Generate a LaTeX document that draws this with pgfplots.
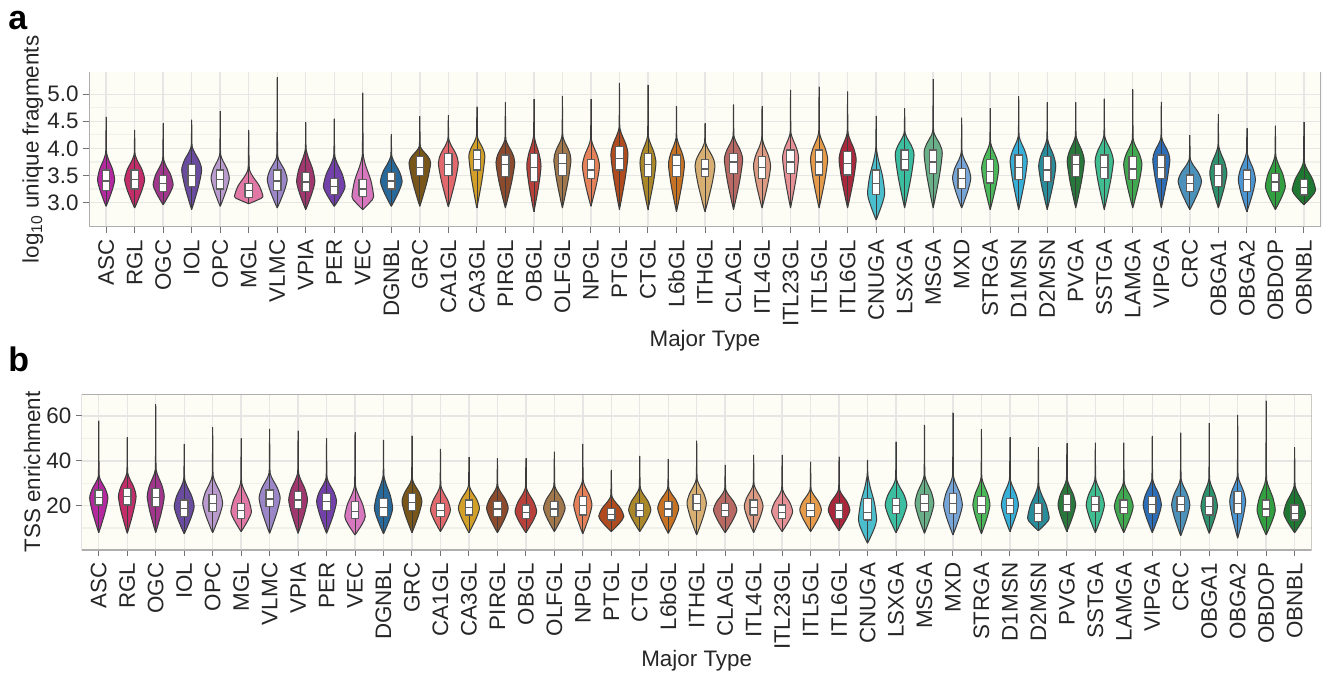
\documentclass[border=0pt]{standalone}
\usepackage{fontspec}
\setmainfont{Liberation Sans}
\usepackage{pgfplots}
\pgfplotsset{compat=1.18}

\definecolor{vASC}{RGB}{180,40,160}
\definecolor{vRGL}{RGB}{195,45,105}
\definecolor{vOGC}{RGB}{160,55,140}
\definecolor{vIOL}{RGB}{105,75,160}
\definecolor{vOPC}{RGB}{185,155,205}
\definecolor{vMGL}{RGB}{225,120,165}
\definecolor{vVLMC}{RGB}{155,135,200}
\definecolor{vVPIA}{RGB}{160,55,110}
\definecolor{vPER}{RGB}{115,65,170}
\definecolor{vVEC}{RGB}{215,120,190}
\definecolor{vDGNBL}{RGB}{40,105,155}
\definecolor{vGRC}{RGB}{120,85,25}
\definecolor{vCA1GL}{RGB}{225,105,110}
\definecolor{vCA3GL}{RGB}{210,160,40}
\definecolor{vPIRGL}{RGB}{140,75,45}
\definecolor{vOBGL}{RGB}{185,65,60}
\definecolor{vOLFGL}{RGB}{160,120,75}
\definecolor{vNPGL}{RGB}{230,130,90}
\definecolor{vPTGL}{RGB}{175,75,30}
\definecolor{vCTGL}{RGB}{170,135,40}
\definecolor{vL6bGL}{RGB}{200,115,35}
\definecolor{vITHGL}{RGB}{215,175,115}
\definecolor{vCLAGL}{RGB}{185,105,100}
\definecolor{vITL4GL}{RGB}{220,155,130}
\definecolor{vITL23GL}{RGB}{230,145,150}
\definecolor{vITL5GL}{RGB}{230,155,75}
\definecolor{vITL6GL}{RGB}{170,40,60}
\definecolor{vCNUGA}{RGB}{75,190,205}
\definecolor{vLSXGA}{RGB}{60,190,160}
\definecolor{vMSGA}{RGB}{105,175,135}
\definecolor{vMXD}{RGB}{120,165,215}
\definecolor{vSTRGA}{RGB}{75,185,90}
\definecolor{vD1MSN}{RGB}{55,175,215}
\definecolor{vD2MSN}{RGB}{40,140,155}
\definecolor{vPVGA}{RGB}{40,120,60}
\definecolor{vSSTGA}{RGB}{65,190,145}
\definecolor{vLAMGA}{RGB}{65,170,80}
\definecolor{vVIPGA}{RGB}{45,110,185}
\definecolor{vCRC}{RGB}{75,145,185}
\definecolor{vOBGA1}{RGB}{45,145,110}
\definecolor{vOBGA2}{RGB}{75,150,210}
\definecolor{vOBDOP}{RGB}{50,160,65}
\definecolor{vOBNBL}{RGB}{30,120,50}

\definecolor{vline}{RGB}{60,60,60}
\definecolor{boxline}{RGB}{95,95,95}
\definecolor{bgc}{RGB}{253,253,245}
\definecolor{gridmaj}{RGB}{230,230,228}
\definecolor{gridmin}{RGB}{241,241,236}
\definecolor{framec}{RGB}{175,175,175}

% x / name / bottom tip / widest y / half width / top of body / tail end / q1 / median / q3
\def\dataA{0/ASC/2.93/3.42/0.30/3.91/4.58/3.23/3.40/3.60,
1/RGL/2.90/3.42/0.35/3.88/4.34/3.25/3.42/3.60,
2/OGC/2.96/3.33/0.35/3.79/4.46/3.20/3.35/3.50,
3/IOL/2.87/3.60/0.35/4.03/4.53/3.30/3.50/3.70,
4/OPC/2.93/3.45/0.32/3.88/4.69/3.25/3.42/3.60,
5/MGL/2.98/3.11/0.50/3.60/4.34/3.10/3.22/3.35,
6/VLMC/2.90/3.42/0.35/3.85/5.31/3.22/3.40/3.60,
7/VPIA/2.87/3.39/0.32/3.97/4.48/3.20/3.38/3.55,
8/PER/2.93/3.30/0.38/3.85/4.55/3.15/3.30/3.45,
9/VEC/2.87/3.11/0.38/3.85/5.03/3.12/3.25/3.42,
10/DGNBL/2.93/3.39/0.38/3.85/4.26/3.25/3.40/3.55,
11/GRC/2.93/3.73/0.38/4.03/4.59/3.50/3.65/3.85,
12/CA1GL/2.92/3.73/0.35/4.16/4.61/3.50/3.70/3.90,
13/CA3GL/2.90/3.85/0.28/4.22/4.77/3.60/3.80/3.97,
14/PIRGL/2.90/3.74/0.33/4.16/4.85/3.48/3.70/3.88,
15/OBGL/2.83/3.67/0.25/4.22/4.91/3.39/3.65/3.91,
16/OLFGL/2.90/3.79/0.30/4.22/4.97/3.50/3.72/3.91,
17/NPGL/2.93/3.67/0.30/4.16/4.91/3.45/3.60/3.79,
18/PTGL/2.87/3.88/0.30/4.37/5.21/3.60/3.82/4.03,
19/CTGL/2.87/3.73/0.28/4.22/5.17/3.48/3.70/3.91,
20/L6bGL/2.83/3.70/0.28/4.19/4.78/3.48/3.68/3.88,
21/ITHGL/2.83/3.68/0.35/4.10/4.46/3.48/3.62/3.79,
22/CLAGL/2.87/3.79/0.32/4.22/4.81/3.54/3.75/3.91,
23/ITL4GL/2.90/3.67/0.30/4.16/4.78/3.45/3.65/3.85,
24/ITL23GL/2.90/3.82/0.28/4.28/5.08/3.54/3.75/3.97,
25/ITL5GL/2.90/3.79/0.30/4.28/5.14/3.51/3.75/3.97,
26/ITL6GL/2.90/3.79/0.30/4.28/5.05/3.51/3.72/3.94,
27/CNUGA/2.68/3.17/0.30/3.97/4.60/3.15/3.35/3.60,
28/LSXGA/2.90/3.88/0.33/4.28/4.74/3.60/3.80/3.97,
29/MSGA/2.90/3.91/0.32/4.31/5.28/3.54/3.75/3.97,
30/MXD/2.90/3.45/0.32/3.91/4.57/3.26/3.45/3.63,
31/STRGA/2.87/3.63/0.30/4.10/4.74/3.36/3.58/3.79,
32/D1MSN/2.87/3.76/0.30/4.22/4.96/3.42/3.65/3.88,
33/D2MSN/2.87/3.67/0.30/4.16/4.85/3.39/3.60/3.85,
34/PVGA/2.90/3.76/0.30/4.22/4.85/3.48/3.70/3.88,
35/SSTGA/2.87/3.76/0.32/4.22/4.92/3.45/3.65/3.88,
36/LAMGA/2.90/3.70/0.32/4.16/5.09/3.42/3.62/3.85,
37/VIPGA/2.90/3.79/0.30/4.19/4.86/3.45/3.65/3.88,
38/CRC/2.87/3.39/0.41/3.79/4.25/3.20/3.35/3.51,
39/OBGA1/2.90/3.54/0.30/4.03/4.63/3.30/3.50/3.70,
40/OBGA2/2.83/3.42/0.30/3.91/4.37/3.20/3.42/3.60,
41/OBDOP/2.87/3.30/0.35/3.85/4.42/3.20/3.38/3.54,
42/OBNBL/2.96/3.23/0.41/3.73/4.49/3.14/3.28/3.42}

\def\dataB{0/ASC/7.9/23.3/0.32/33/57.9/20.3/23.5/27,
1/RGL/7.6/24/0.31/34.4/50.4/20.3/24/27.7,
2/OGC/7.9/24/0.30/35.9/65.2/19.6/23.5/27.7,
3/IOL/7.4/19.6/0.35/31.5/47.5/15.1/18.8/22.5,
4/OPC/7.9/21/0.35/33/55/17.3/21/24.8,
5/MGL/8.4/17.3/0.36/30/50/14.3/18/21,
6/VLMC/7.6/23.3/0.37/34.4/54.2/19.6/23/27,
7/VPIA/7.6/22.5/0.33/34.4/53.5/18.8/22.5/26.2,
8/PER/7.6/21.8/0.35/32.2/50/18/21.7/25.5,
9/VEC/6.9/15.1/0.36/28.5/52.7/14.3/17.5/21.8,
10/DGNBL/7.4/18.8/0.32/33/49.3/15.1/19/23.3,
11/GRC/7.9/21.8/0.35/31.5/51.2/18/21.5/25.5,
12/CA1GL/8.4/18/0.35/28.5/45.3/15.1/18/21,
13/CA3GL/7.9/18.8/0.37/28.5/41.6/15.8/19/22.5,
14/PIRGL/7.9/18.8/0.38/28.5/41.1/15.1/18.5/21.8,
15/OBGL/7.9/17.3/0.38/27.7/41.1/14.3/17/20.3,
16/OLFGL/8.4/18.8/0.38/28.5/44.1/15.1/18.5/21.8,
17/NPGL/7.4/20.3/0.32/30.7/47.5/15.8/20/24,
18/PTGL/8.4/15.1/0.44/24/35.9/13.6/16/18.8,
19/CTGL/8.4/18/0.39/27.7/42.2/15.1/18/21,
20/L6bGL/7.6/18.8/0.37/27.7/40.7/15.1/18.5/21.8,
21/ITHGL/6.9/21/0.34/31.5/49/18/21/24.8,
22/CLAGL/7.9/18/0.41/27/38.2/15.1/18/21,
23/ITL4GL/7.9/19.6/0.33/29.2/42.6/15.8/19/22.5,
24/ITL23GL/8.4/17.3/0.37/27/42.6/14.3/17/20.3,
25/ITL5GL/8.4/18/0.38/27/39.6/15.1/18/21,
26/ITL6GL/8.8/18/0.38/27/41.9/14.3/18/21,
27/CNUGA/3.2/13.6/0.32/33/40.4/13.6/17/23.3,
28/LSXGA/7.9/20.3/0.38/31.5/48.6/16.6/20/23.3,
29/MSGA/7.6/21/0.33/33/56/17.3/21/24.8,
30/MXD/6.9/20.3/0.33/33/61.5/16.6/21/25.5,
31/STRGA/7.4/20.3/0.30/32.2/54/16.6/20/24,
32/D1MSN/8.4/20.3/0.30/31.5/50.4/16.6/20/23.3,
33/D2MSN/8.8/14.3/0.38/28.5/46/12.9/16.5/21,
34/PVGA/8.4/20.3/0.31/31.5/47.8/17.3/20.5/24.8,
35/SSTGA/7.9/20.3/0.32/31.5/48.1/17.3/20.5/24,
36/LAMGA/7.9/19.6/0.33/30/48.1/16.6/19/22.5,
37/VIPGA/7.9/20.3/0.32/31.5/51.1/16.6/20.5/24,
38/CRC/6.5/20.3/0.32/31.5/52.6/17.3/20.5/24,
39/OBGA1/7.6/19.6/0.29/31.5/56.8/15.8/19.6/24,
40/OBGA2/5.4/21.8/0.28/33/60.5/16.6/21/26.2,
41/OBDOP/6.9/18/0.32/31.5/66.9/15.1/18.5/22.5,
42/OBNBL/7.9/16.6/0.38/28.5/46/13.6/16.5/20.3}

\newcommand\drawviolins[1]{%
\foreach \vx/\vc/\vb/\vm/\vw/\vt/\ve/\qa/\md/\qb in #1 {%
  \pgfmathsetmacro\ya{\vb+0.2*(\vm-\vb)}%
  \pgfmathsetmacro\yb{\vb+0.6*(\vm-\vb)}%
  \pgfmathsetmacro\yc{\vm+0.4*(\vt-\vm)}%
  \pgfmathsetmacro\yd{\vm+0.75*(\vt-\vm)}%
  \pgfmathsetmacro\ye{\vt+0.25*(\ve-\vt)}%
  \pgfmathsetmacro\ra{\vx+0.25*\vw}\pgfmathsetmacro\la{\vx-0.25*\vw}%
  \pgfmathsetmacro\rb{\vx+0.7*\vw}\pgfmathsetmacro\lb{\vx-0.7*\vw}%
  \pgfmathsetmacro\rc{\vx+\vw}\pgfmathsetmacro\lc{\vx-\vw}%
  \pgfmathsetmacro\rd{\vx+0.75*\vw}\pgfmathsetmacro\ld{\vx-0.75*\vw}%
  \pgfmathsetmacro\re{\vx+0.3*\vw}\pgfmathsetmacro\le{\vx-0.3*\vw}%
  \pgfmathsetmacro\rf{\vx+0.06*\vw}\pgfmathsetmacro\lf{\vx-0.06*\vw}%
  \pgfmathsetmacro\rg{\vx+0.025*\vw}\pgfmathsetmacro\lg{\vx-0.025*\vw}%
  \pgfmathsetmacro\bl{\vx-0.13}\pgfmathsetmacro\br{\vx+0.13}%
  \edef\tmp{%
    \noexpand\addplot[draw=vline, line width=0.5pt, fill=v\vc, smooth, tension=0.45]
      coordinates {(\vx,\vb) (\ra,\ya) (\rb,\yb) (\rc,\vm) (\rd,\yc) (\re,\yd) (\rf,\vt) (\rg,\ye) (\vx,\ve)
                   (\lg,\ye) (\lf,\vt) (\le,\yd) (\ld,\yc) (\lc,\vm) (\lb,\yb) (\la,\ya) (\vx,\vb)};
    \noexpand\addplot[draw=vline, line width=0.35pt] coordinates {(\vx,\vb) (\vx,\ve)};
    \noexpand\addplot[draw=boxline, line width=0.6pt, fill=white]
      coordinates {(\bl,\qa) (\br,\qa) (\br,\qb) (\bl,\qb) (\bl,\qa)};
    \noexpand\addplot[draw=boxline, line width=0.6pt] coordinates {(\bl,\md) (\br,\md)};
  }%
  \tmp
}}

\pgfplotsset{
  vpanel/.style={
    scale only axis,
    xmin=-0.6, xmax=42.6,
    xtick={0,...,42},
    xticklabels={ASC,RGL,OGC,IOL,OPC,MGL,VLMC,VPIA,PER,VEC,DGNBL,GRC,CA1GL,CA3GL,PIRGL,OBGL,OLFGL,NPGL,PTGL,CTGL,L6bGL,ITHGL,CLAGL,ITL4GL,ITL23GL,ITL5GL,ITL6GL,CNUGA,LSXGA,MSGA,MXD,STRGA,D1MSN,D2MSN,PVGA,SSTGA,LAMGA,VIPGA,CRC,OBGA1,OBGA2,OBDOP,OBNBL},
    xticklabel style={rotate=90, anchor=east, font=\fontsize{11.2}{12}\selectfont, text=black!85, inner sep=3.2pt},
    yticklabel style={font=\fontsize{11.2}{12}\selectfont, text=black!85, inner sep=2pt},
    /pgf/number format/assume math mode=true,
    tick pos=left, tick align=outside,
    major tick length=3pt, minor tick length=0pt,
    tick style={line width=0.5pt, color=black!55},
    axis line style={draw=none},
    xmajorgrids, ymajorgrids, yminorgrids,
    major grid style={line width=0.7pt, color=gridmaj},
    minor grid style={line width=0.6pt, color=gridmin},
    minor y tick num=1,
    axis background/.style={fill=bgc},
    xlabel={Major Type},
    label style={font=\fontsize{11.2}{13}\selectfont, text=black!85},
  }
}

\begin{document}
\begin{tikzpicture}
\path[use as bounding box] (0,0) rectangle (661.5pt,337.5pt);

\begin{axis}[vpanel,
  at={(44.5pt,224pt)}, anchor=south west,
  width=616pt, height=77.5pt,
  ymin=2.55, ymax=5.41,
  ytick={3,3.5,4,4.5,5}, yticklabels={3.0,3.5,4.0,4.5,5.0},
  ylabel={log\textsubscript{10} unique fragments},
  ylabel style={at={(axis description cs:-0.0455,0.5)}, anchor=center},
  xlabel style={at={(axis description cs:0.5,0)}, anchor=base, yshift=-60pt},
]
\drawviolins{\dataA}
\draw[framec, line width=0.7pt] (rel axis cs:0,1) -- (rel axis cs:0,0) -- (rel axis cs:1,0) -- (rel axis cs:1,1);
\end{axis}

\begin{axis}[vpanel,
  at={(40.85pt,62.5pt)}, anchor=south west,
  width=615pt, height=78pt,
  ymin=0.2, ymax=69.8,
  ytick={20,40,60},
  minor ytick={10,30,50,70},
  ylabel={TSS enrichment},
  ylabel style={at={(axis description cs:-0.0404,0.5)}, anchor=center},
  xlabel style={at={(axis description cs:0.5,0)}, anchor=base, yshift=-58pt},
]
\drawviolins{\dataB}
\draw[framec, line width=0.7pt] (rel axis cs:0,1) -- (rel axis cs:0,0) -- (rel axis cs:1,0) -- (rel axis cs:1,1) -- cycle;
\end{axis}

\node[anchor=base west, inner sep=0pt, font=\bfseries\fontsize{17}{17}\selectfont] at (4pt,322.5pt) {a};
\node[anchor=base west, inner sep=0pt, font=\bfseries\fontsize{17}{17}\selectfont] at (4pt,151.5pt) {b};
\end{tikzpicture}
\end{document}
